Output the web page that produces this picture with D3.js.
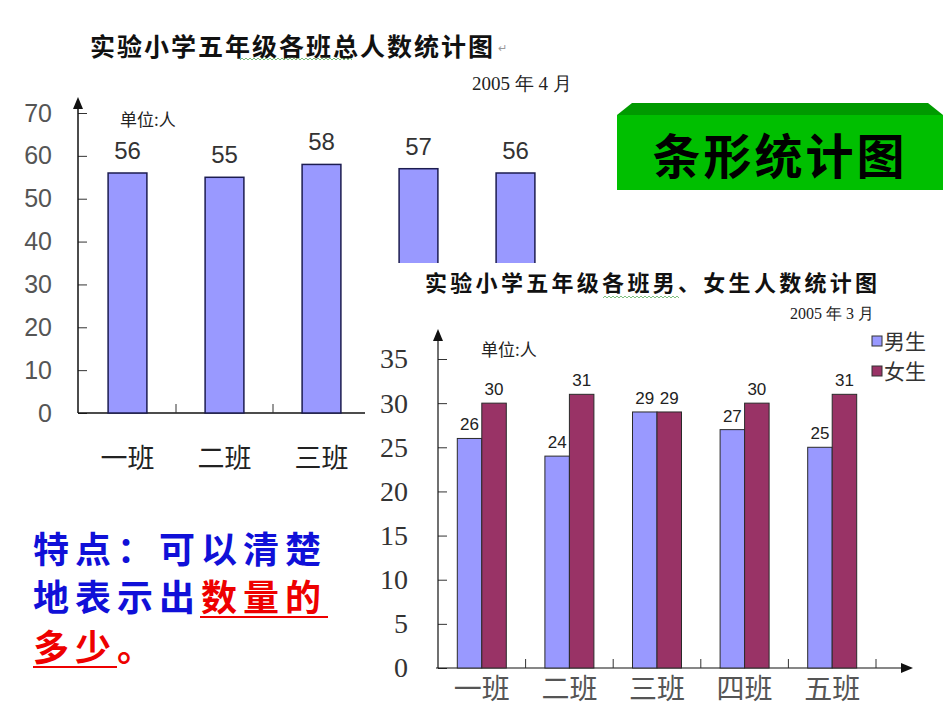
<!DOCTYPE html>
<html>
<head>
<meta charset="utf-8">
<script src="https://cdn.jsdelivr.net/npm/d3@7"></script>
<style>
  body { margin: 0; background: #fff; }
  svg { display: block; }
</style>
</head>
<body>
<svg width="950" height="713"></svg>
<script>
// 总人数
const classes = ["一班", "二班", "三班", "四班", "五班"];
const totals = [56, 55, 58, 57, 56];
const totalTicks = [0, 10, 20, 30, 40, 50, 60, 70];

// 男、女生人数
const seriesNames = ["男生", "女生"];
const boys = [26, 24, 29, 27, 25];
const girls = [30, 31, 29, 30, 31];
const genderTicks = [0, 5, 10, 15, 20, 25, 30, 35];
const seriesColors = ["#9999ff", "#993366"];

const svg = d3.select("svg");
const cjk = "'Noto Sans CJK SC', sans-serif";
const coverX = 365; // 第二张图的白底左边

// wavy spell-check underline
function wavy(g, x0, x1, y) {
    let d = `M${x0},${y}`;
    for (let x = x0; x < x1; x += 4) d += `l2,-2l2,2`;
    g.append("path").attr("d", d).attr("fill", "none")
        .attr("stroke", "#7fbf7f").attr("stroke-width", 1);
}

//1. 总人数统计图
svg.append("text")
    .attr("x", 90).attr("y", 56)
    .style("font-family", cjk).style("font-size", "25px").style("font-weight", "bold")
    .style("letter-spacing", "2px").attr("fill", "#111")
    .text("实验小学五年级各班总人数统计图");
svg.append("text")
    .attr("x", 498).attr("y", 52)
    .style("font-size", "11px").attr("fill", "#999").text("↵");
wavy(svg, 240, 352, 60);
svg.append("text")
    .attr("x", 472).attr("y", 90)
    .style("font-family", "'Liberation Serif', serif").style("font-size", "19px").attr("fill", "#222")
    .text("2005 年 4 月");

const x1 = d3.scaleBand().domain(classes).range([79, 564]);
const y1 = d3.scaleLinear().domain([0, 70]).range([413, 113]);
const chart1 = svg.append("g");

chart1.append("g")
    .attr("transform", "translate(78,0)")
    .call(d3.axisLeft(y1).tickValues(totalTicks).tickSizeInner(-9).tickSizeOuter(0).tickPadding(26))
    .call(g => g.select(".domain").remove())
    .call(g => g.selectAll("line").attr("stroke", "#333"))
    .call(g => g.selectAll("text").attr("fill", "#555")
        .style("font-family", "'Liberation Sans', sans-serif").style("font-size", "25px"));

chart1.append("line").attr("x1", 78).attr("x2", 78).attr("y1", y1(0)).attr("y2", 104)
    .attr("stroke", "#111").attr("stroke-width", 1.5);
chart1.append("path").attr("d", "M78,97L73,109L83,109Z").attr("fill", "#111");
chart1.append("line").attr("x1", 78).attr("x2", coverX).attr("y1", y1(0)).attr("y2", y1(0))
    .attr("stroke", "#111").attr("stroke-width", 1.5);
chart1.selectAll(".sep").data(classes.slice(1).filter(d => x1(d) < coverX)).join("line")
    .attr("x1", d => x1(d)).attr("x2", d => x1(d))
    .attr("y1", y1(0)).attr("y2", y1(0) - 9).attr("stroke", "#333");

const bw1 = x1.bandwidth() * 0.4;
chart1.selectAll(".bar").data(classes).join("rect")
    .attr("x", d => x1(d) + (x1.bandwidth() - bw1) / 2)
    .attr("y", (d, i) => y1(totals[i]))
    .attr("width", bw1)
    .attr("height", (d, i) => y1(0) - y1(totals[i]))
    .attr("fill", "#9999ff").attr("stroke", "#1c1c50").attr("stroke-width", 1.5);
chart1.selectAll(".val").data(classes).join("text")
    .attr("x", d => x1(d) + x1.bandwidth() / 2)
    .attr("y", (d, i) => y1(totals[i]) - 14)
    .attr("text-anchor", "middle").attr("fill", "#333")
    .style("font-family", "'Liberation Sans', sans-serif").style("font-size", "24px")
    .text((d, i) => totals[i]);
// 四班、五班的标签被下图盖住，不画
chart1.selectAll(".cat").data(classes.filter(d => x1(d) + x1.bandwidth() / 2 + 30 < coverX)).join("text")
    .attr("x", d => x1(d) + x1.bandwidth() / 2)
    .attr("y", 468)
    .attr("text-anchor", "middle").attr("fill", "#222")
    .style("font-family", cjk).style("font-size", "27px")
    .text(d => d);
svg.append("text")
    .attr("x", 120).attr("y", 126)
    .style("font-family", cjk).style("font-size", "17px").attr("fill", "#222")
    .text("单位:人");

//2. 男、女生人数统计图 (盖在上图之上)
svg.append("rect").attr("x", coverX).attr("y", 263).attr("width", 950 - coverX).attr("height", 450).attr("fill", "#fff");
svg.append("text")
    .attr("x", 425).attr("y", 291)
    .style("font-family", cjk).style("font-size", "22px").style("font-weight", "bold")
    .style("letter-spacing", "3.3px").attr("fill", "#111")
    .text("实验小学五年级各班男、女生人数统计图");
wavy(svg, 603, 679, 298);
svg.append("text")
    .attr("x", 790).attr("y", 319)
    .style("font-family", "'Liberation Serif', serif").style("font-size", "16px").attr("fill", "#222")
    .text("2005 年 3 月");

const x2 = d3.scaleBand().domain(classes).range([438, 876]);
const xs = d3.scaleBand().domain(seriesNames)
    .range([(x2.bandwidth() - 49) / 2, (x2.bandwidth() + 49) / 2]);
const y2 = d3.scaleLinear().domain([0, 35]).range([668, 359]);
const chart2 = svg.append("g");

chart2.append("g")
    .attr("transform", "translate(438,0)")
    .call(d3.axisLeft(y2).tickValues(genderTicks).tickSizeInner(-9).tickSizeOuter(0).tickPadding(30))
    .call(g => g.select(".domain").remove())
    .call(g => g.selectAll("line").attr("stroke", "#333"))
    .call(g => g.selectAll("text").attr("fill", "#333")
        .style("font-family", "'Liberation Serif', serif").style("font-size", "28px"));

chart2.append("line").attr("x1", 438).attr("x2", 438).attr("y1", y2(0)).attr("y2", 336)
    .attr("stroke", "#111").attr("stroke-width", 1.2);
chart2.append("path").attr("d", "M438,329L433,341L443,341Z").attr("fill", "#111");
chart2.append("line").attr("x1", 436).attr("x2", 904).attr("y1", y2(0)).attr("y2", y2(0))
    .attr("stroke", "#111").attr("stroke-width", 1.2);
chart2.append("path").attr("d", "M913,668L901,663L901,673Z").attr("fill", "#111");
chart2.selectAll(".sep").data(classes).join("line")
    .attr("x1", d => x2(d) + x2.bandwidth()).attr("x2", d => x2(d) + x2.bandwidth())
    .attr("y1", y2(0)).attr("y2", y2(0) - 9).attr("stroke", "#333");

const rows = classes.map((c, i) => ({ c, v: [boys[i], girls[i]] }));
const grp = chart2.selectAll(".grp").data(rows).join("g")
    .attr("transform", d => `translate(${x2(d.c)},0)`);
grp.selectAll("rect").data(d => d.v.map((v, k) => ({ k, v }))).join("rect")
    .attr("x", d => xs(seriesNames[d.k]))
    .attr("y", d => y2(d.v))
    .attr("width", xs.bandwidth())
    .attr("height", d => y2(0) - y2(d.v))
    .attr("fill", d => seriesColors[d.k]).attr("stroke", "#2a2a2a").attr("stroke-width", 1);
grp.selectAll("text").data(d => d.v.map((v, k) => ({ k, v }))).join("text")
    .attr("x", d => xs(seriesNames[d.k]) + xs.bandwidth() / 2)
    .attr("y", d => y2(d.v) - 8)
    .attr("text-anchor", "middle").attr("fill", "#222")
    .style("font-family", "'Liberation Sans', sans-serif").style("font-size", "17px")
    .text(d => d.v);
chart2.selectAll(".cat").data(classes).join("text")
    .attr("x", d => x2(d) + x2.bandwidth() / 2)
    .attr("y", 699)
    .attr("text-anchor", "middle").attr("fill", "#555")
    .style("font-family", cjk).style("font-size", "28px")
    .text(d => d);
svg.append("text")
    .attr("x", 481).attr("y", 356)
    .style("font-family", cjk).style("font-size", "17px").attr("fill", "#222")
    .text("单位:人");

// 图例
const legend = svg.append("g").attr("transform", "translate(872,336)");
legend.selectAll("rect").data(seriesNames).join("rect")
    .attr("x", 0).attr("y", (d, i) => i * 30)
    .attr("width", 10).attr("height", 10)
    .attr("fill", (d, i) => seriesColors[i]).attr("stroke", "#333");
legend.selectAll("text").data(seriesNames).join("text")
    .attr("x", 12).attr("y", (d, i) => i * 30 + 13)
    .style("font-family", cjk).style("font-size", "21px").attr("fill", "#333")
    .text(d => d);

//3. 标题框
svg.append("path").attr("d", "M632,103L928,103L943,115L617,115Z").attr("fill", "#009a00");
svg.append("rect").attr("x", 617).attr("y", 115).attr("width", 326).attr("height", 75).attr("fill", "#00bf00");
svg.append("text")
    .attr("x", 780).attr("y", 174).attr("text-anchor", "middle")
    .style("font-family", cjk).style("font-size", "48px").style("font-weight", "bold")
    .style("letter-spacing", "3px").attr("fill", "#000")
    .text("条形统计图");

//4. 特点
const note = svg.append("g")
    .style("font-family", cjk).style("font-size", "36px").style("font-weight", "bold")
    .style("letter-spacing", "6px");
note.append("text").attr("x", 33).attr("y", 563).attr("fill", "#1010d8").text("特点：可以清楚");
const l2 = note.append("text").attr("x", 33).attr("y", 611);
l2.append("tspan").attr("fill", "#1010d8").text("地表示出");
l2.append("tspan").attr("fill", "#ee0000").text("数量的");
note.append("text").attr("x", 33).attr("y", 661).attr("fill", "#ee0000").text("多少。");
note.append("line").attr("x1", 200).attr("x2", 328).attr("y1", 617).attr("y2", 617)
    .attr("stroke", "#ee0000").attr("stroke-width", 2);
note.append("line").attr("x1", 33).attr("x2", 117).attr("y1", 667).attr("y2", 667)
    .attr("stroke", "#ee0000").attr("stroke-width", 2);
</script>
</body>
</html>
